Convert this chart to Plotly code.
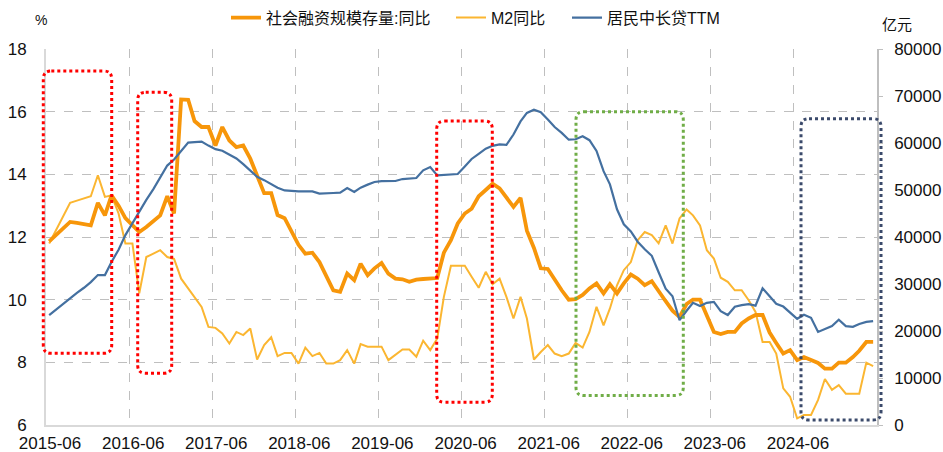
import plotly.graph_objects as go

# ---------------- data (monthly, 2015-06 .. 2025-05) ----------------
start_year, start_month, n_months = 2015, 6, 120
months = []
for i in range(n_months):
    y = start_year + (start_month - 1 + i) // 12
    m = (start_month - 1 + i) % 12 + 1
    months.append(f"{y}-{m:02d}-15")

sf_yoy = [
    11.86, 12.06, 12.27, 12.48, 12.45, 12.41, 12.37, 13.09, 12.69, 13.33,
    13.00, 12.60, 12.37, 12.16, 12.32, 12.51, 12.69, 13.30, 12.75, 16.39,
    16.38, 15.70, 15.51, 15.51, 14.92, 15.51, 15.08, 14.87, 14.92, 14.50,
    13.95, 13.40, 13.40, 12.70, 12.60, 12.15, 11.75, 11.47, 11.50, 11.20,
    10.75, 10.30, 10.25, 10.83, 10.62, 11.15, 10.78, 11.00, 11.17, 10.83,
    10.67, 10.65, 10.57, 10.64, 10.66, 10.67, 10.69, 11.50, 11.90, 12.43,
    12.75, 12.90, 13.30, 13.50, 13.70, 13.55, 13.28, 12.96, 13.25, 12.20,
    11.65, 11.00, 10.98, 10.62, 10.30, 10.00, 10.02, 10.15, 10.36, 10.52,
    10.20, 10.49, 10.20, 10.52, 10.80, 10.67, 10.46, 10.59, 10.25, 9.95,
    9.65, 9.45, 9.86, 10.00, 10.00, 9.50, 8.97, 8.90, 8.97, 8.97,
    9.24, 9.40, 9.51, 9.51, 8.95, 8.62, 8.28, 8.39, 8.07, 8.17,
    8.07, 7.98, 7.80, 7.80, 7.99, 7.99, 8.17, 8.37, 8.65, 8.65,
]

m2_yoy = [
    11.79, 12.20, 12.65, 13.09, 13.16, 13.23, 13.30, 13.97, 13.28, 13.33,
    12.75, 11.79, 11.79, 10.20, 11.36, 11.47, 11.58, 11.36, 11.30, 10.67,
    10.36, 10.09, 9.77, 9.13, 9.10, 8.92, 8.60, 8.97, 8.87, 9.08,
    8.09, 8.55, 8.80, 8.20, 8.30, 8.30, 7.96, 8.47, 8.20, 8.30,
    7.96, 7.96, 8.07, 8.39, 7.96, 8.58, 8.50, 8.50, 8.50, 8.07,
    8.23, 8.41, 8.41, 8.18, 8.69, 8.39, 8.76, 10.09, 11.08, 11.08,
    11.08, 10.73, 10.38, 10.89, 10.49, 10.67, 10.09, 9.40, 10.09, 9.40,
    8.09, 8.33, 8.55, 8.28, 8.20, 8.28, 8.62, 8.47, 8.97, 9.77,
    9.18, 9.72, 10.46, 10.94, 11.20, 11.90, 12.16, 12.06, 11.80, 12.37,
    11.79, 12.59, 12.88, 12.69, 12.37, 11.58, 11.31, 10.70, 10.57, 10.30,
    10.30, 9.98, 9.61, 8.65, 8.65, 8.28, 7.17, 6.90, 6.21, 6.32,
    6.32, 6.80, 7.47, 7.12, 7.27, 7.00, 7.00, 7.00, 7.99, 7.88,
]

household_ttm = [
    23400, 24600, 25800, 27000, 28100, 29200, 30400, 31900, 31900, 34700,
    37300, 40400, 43000, 45500, 47900, 50200, 52800, 55200, 56500, 58300,
    60100, 60200, 60300, 59450, 58700, 58350, 57600, 56700, 55500, 54100,
    52800, 52100, 51200, 50500, 49900, 49750, 49720, 49720, 49700, 49230,
    49230, 49360, 49430, 50420, 49570, 50500, 51140, 51700, 51900, 51840,
    51910, 52330, 52420, 52550, 54180, 54890, 53120, 53190, 53330, 53400,
    55000, 56600, 57700, 58800, 59400, 59700, 59600, 61800, 64600, 66400,
    67080, 66550, 65000, 63400, 62150, 60700, 60800, 61450, 60600, 58300,
    54000, 51200, 45900, 42700, 41200, 39000, 37400, 36000, 32500, 29000,
    27400, 22300, 24300, 26000, 25300, 26000, 26200, 24200, 23400, 25150,
    25500, 25700, 25400, 29100, 27400, 25800, 25200, 24000, 22600, 23450,
    22800, 19800, 20350, 21050, 22400, 21050, 20900, 21500, 21950, 22100,
]

tick_years = list(range(2015, 2025))
tick_vals = [f"{y}-06-01" for y in tick_years]
tick_text = [f"{y}-06" for y in tick_years]

series_names = ["社会融资规模存量:同比", "M2同比", "居民中长贷TTM"]

# ---------------- layout geometry ----------------
W, H = 943, 452
ML, MR, MT, MB = 46, 66, 49, 27
PW, PH = W - ML - MR, H - MT - MB


def px_to_paper(xp, yp):
    return (xp - ML) / PW, (H - MB - yp) / PH


def rounded_box(x0p, x1p, ytop, ybot, r=8):
    x0, y1 = px_to_paper(x0p, ytop)
    x1, y0 = px_to_paper(x1p, ybot)
    rx, ry = r / PW, r / PH
    return (f"M {x0+rx},{y1} L {x1-rx},{y1} Q {x1},{y1} {x1},{y1-ry} "
            f"L {x1},{y0+ry} Q {x1},{y0} {x1-rx},{y0} L {x0+rx},{y0} "
            f"Q {x0},{y0} {x0},{y0+ry} L {x0},{y1-ry} Q {x0},{y1} {x0+rx},{y1} Z")


# highlight boxes (pixel extents) and colours
boxes = [
    (43.3, 111.7, 71.0, 353.3, "#FF0000"),
    (137.7, 171.7, 92.3, 373.3, "#FF0000"),
    (436.7, 492.3, 121.0, 402.3, "#FF0000"),
    (576.0, 683.3, 111.7, 395.5, "#70AD47"),
    (801.0, 881.0, 118.7, 420.0, "#3B4A6B"),
]

fig = go.Figure()
fig.add_trace(go.Scatter(x=months, y=m2_yoy, name=series_names[1], mode="lines",
                         line=dict(color="#FBB631", width=2), legend="legend2"))
fig.add_trace(go.Scatter(x=months, y=sf_yoy, name=series_names[0], mode="lines",
                         line=dict(color="#F7960A", width=3.8), legend="legend"))
fig.add_trace(go.Scatter(x=months, y=household_ttm, name=series_names[2], mode="lines",
                         line=dict(color="#4470A0", width=2.2), yaxis="y2", legend="legend3"))

tickfont = dict(family="Liberation Sans, Arial, sans-serif", size=17, color="#111111")

shapes = []
for x0p, x1p, yt, yb, col in boxes:
    shapes.append(dict(type="path", path=rounded_box(x0p, x1p, yt, yb),
                       xref="paper", yref="paper",
                       line=dict(color=col, width=3, dash="3px,3px"),
                       fillcolor="rgba(0,0,0,0)", layer="above"))

legend_font = dict(family="Liberation Sans, Noto Sans CJK SC, sans-serif", size=16, color="#111111")
legend_y = px_to_paper(0, 17.7)[1]


def legend_at(line_start_px):
    return dict(orientation="h", x=px_to_paper(line_start_px - 5, 0)[0], xanchor="left",
                y=legend_y, yanchor="middle", font=legend_font,
                bgcolor="rgba(0,0,0,0)", itemwidth=30, borderwidth=0)


fig.update_layout(
    width=W, height=H,
    margin=dict(l=ML, r=MR, t=MT, b=MB, autoexpand=False),
    paper_bgcolor="white", plot_bgcolor="white",
    showlegend=True,
    legend=legend_at(231),
    legend2=legend_at(456),
    legend3=legend_at(572),
    xaxis=dict(range=["2015-06-01", "2025-06-01"], tickmode="array",
               tickvals=tick_vals, ticktext=tick_text,
               showgrid=True, gridcolor="#BFBFBF", griddash="dash", gridwidth=1,
               showline=True, linecolor="#D9D9D9", linewidth=2,
               ticks="", tickfont=tickfont, ticklabelshift=4, ticklabelstandoff=2,
               zeroline=False, automargin=False),
    yaxis=dict(range=[6, 18], tick0=6, dtick=2,
               showgrid=True, gridcolor="#BFBFBF", griddash="dash", gridwidth=1,
               showline=True, linecolor="#D9D9D9", linewidth=2,
               ticks="", tickfont=tickfont, ticklabelstandoff=14,
               zeroline=False, automargin=False),
    yaxis2=dict(range=[0, 80000], tick0=0, dtick=10000, overlaying="y", side="right",
                tickformat="d",
                showgrid=False, showline=True, linecolor="#BFBFBF", linewidth=1.5,
                ticks="outside", ticklen=4, tickcolor="#BFBFBF",
                tickfont=tickfont, ticklabelstandoff=8,
                zeroline=False, automargin=False),
    shapes=shapes,
    annotations=[
        dict(text="%", xref="paper", yref="paper", x=px_to_paper(41, 20)[0], y=px_to_paper(41, 20)[1],
             showarrow=False, xanchor="center", yanchor="middle",
             font=dict(family="Liberation Sans, sans-serif", size=14, color="#111111")),
        dict(text="亿元", xref="paper", yref="paper", x=px_to_paper(897, 23)[0], y=px_to_paper(897, 23)[1],
             showarrow=False, xanchor="center", yanchor="middle",
             font=dict(family="Noto Sans CJK SC, sans-serif", size=15, color="#111111")),
    ],
)

fig.write_html("out.html", config={"displayModeBar": False},
               post_script="document.body.style.margin='0';")
